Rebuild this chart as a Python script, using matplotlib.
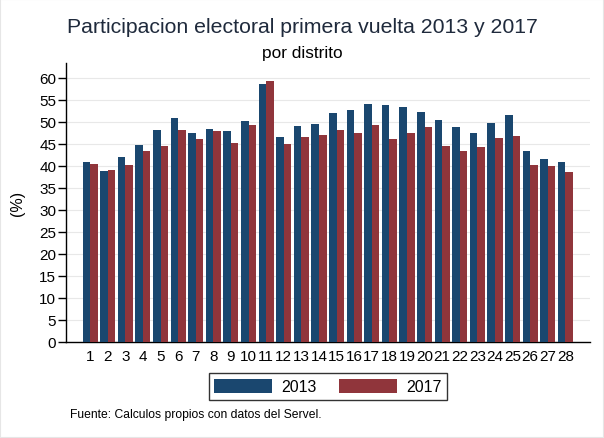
import matplotlib.pyplot as plt
import numpy as np

plt.rcParams['font.family'] = ['Liberation Sans', 'DejaVu Sans']

distritos = list(range(1, 29))
part_2013 = [40.9, 38.9, 42.0, 44.8, 48.2, 50.9, 47.5, 48.4, 48.0, 50.2,
             58.6, 46.6, 49.1, 49.5, 52.0, 52.7, 54.1, 53.9, 53.4, 52.3,
             50.5, 48.9, 47.5, 49.8, 51.6, 43.4, 41.6, 40.9]
part_2017 = [40.5, 39.1, 40.2, 43.4, 44.5, 48.2, 46.1, 48.0, 45.2, 49.3,
             59.3, 45.0, 46.6, 47.0, 48.2, 47.5, 49.3, 46.1, 47.5, 48.9,
             44.5, 43.4, 44.3, 46.4, 46.8, 40.2, 40.0, 38.6]

NAVY = '#1a476f'
MAROON = '#90353b'

fig = plt.figure(figsize=(6.04, 4.39), dpi=100)
ax = fig.add_axes([66 / 604, 1 - 343 / 439, (590 - 66) / 604, (343 - 64) / 439])

x = np.array(distritos)
w = 0.43
b1 = ax.bar(x - w / 2, part_2013, width=w, color=NAVY, label='2013', zorder=3)
b2 = ax.bar(x + w / 2, part_2017, width=w, color=MAROON, label='2017', zorder=3)

ax.set_xlim(-0.37, 29.4)
ax.set_ylim(0, 63.4)
ax.set_yticks(range(0, 61, 5))
ax.set_xticks(x)
ax.set_xticklabels([str(d) for d in distritos])
ax.tick_params(axis='x', length=0, labelsize=11, pad=5)
ax.tick_params(axis='y', length=6, width=1, labelsize=11, pad=1)
ax.yaxis.grid(True, color='#e8e8e8', linewidth=0.8, zorder=0)
for s in ['top', 'right']:
    ax.spines[s].set_visible(False)
for s in ['left', 'bottom']:
    ax.spines[s].set_linewidth(1.0)
ax.set_ylabel('(%)', fontsize=11.5, labelpad=6)
ax.yaxis.set_label_coords(25 / 604, 1 - 203 / 439, transform=fig.transFigure)

fig.text(302 / 604, 1 - 33 / 439, 'Participacion electoral primera vuelta 2013 y 2017',
         ha='center', va='baseline', fontsize=15.3, color='#1f2a3c')
fig.text(302 / 604, 1 - 58 / 439, 'por distrito', ha='center', va='baseline',
         fontsize=12.4)

leg = fig.legend(handles=[b1, b2], labels=['2013', '2017'], loc='center',
                 bbox_to_anchor=(328 / 604, 1 - 387.5 / 439), ncol=2, fontsize=11.5,
                 frameon=True, fancybox=False, edgecolor='black',
                 handlelength=3.6, handleheight=0.95, columnspacing=1.4,
                 borderpad=0.35, handletextpad=0.6, borderaxespad=0)
leg.get_frame().set_linewidth(1.0)

fig.text(70 / 604, 1 - 415 / 439, 'Fuente: Calculos propios con datos del Servel.',
         ha='left', va='center', fontsize=8.7)

fig.patches.append(plt.Rectangle((0, 0), 1, 1, transform=fig.transFigure,
                                 fill=False, edgecolor='#e6e6e6', linewidth=1.5))

fig.savefig('out.png', dpi=100)
